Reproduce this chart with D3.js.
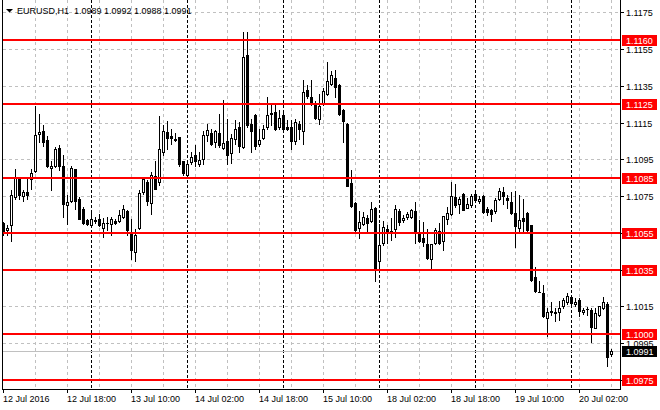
<!DOCTYPE html>
<html><head><meta charset="utf-8">
<script src="https://cdn.jsdelivr.net/npm/d3@7"></script>
<style>html,body{margin:0;padding:0;background:#fff;overflow:hidden}svg{display:block}text{font-family:"Liberation Sans",Arial,sans-serif;font-size:9px}</style>
</head><body>
<script>
const symbolTitle = "EURUSD,H1  1.0989 1.0992 1.0988 1.0991";
const startTime = "2016-07-12T02:00";
const open = [1.10604,1.10568,1.10592,1.10745,1.10845,1.10751,1.10773,1.10841,1.10888,1.11090,1.11107,1.11058,1.10905,1.10914,1.11011,1.10914,1.10700,1.10726,1.10896,1.10736,1.10682,1.10619,1.10592,1.10615,1.10628,1.10577,1.10602,1.10601,1.10617,1.10617,1.10637,1.10668,1.10556,1.10447,1.10577,1.10773,1.10830,1.10715,1.10859,1.10827,1.10993,1.11098,1.11080,1.11056,1.11071,1.10939,1.10863,1.10935,1.10975,1.10926,1.10953,1.11081,1.11095,1.11044,1.11095,1.11015,1.11048,1.10985,1.11059,1.11128,1.11017,1.11521,1.11145,1.11191,1.11035,1.11068,1.11128,1.11198,1.11206,1.11127,1.11191,1.11128,1.11127,1.11048,1.11145,1.11106,1.11326,1.11288,1.11259,1.11168,1.11254,1.11306,1.11362,1.11395,1.11357,1.11217,1.11145,1.10821,1.10712,1.10578,1.10601,1.10632,1.10616,1.10688,1.10399,1.10498,1.10571,1.10558,1.10571,1.10668,1.10618,1.10637,1.10637,1.10669,1.10546,1.10521,1.10488,1.10411,1.10496,1.10559,1.10506,1.10628,1.10651,1.10745,1.10709,1.10760,1.10687,1.10700,1.10760,1.10723,1.10749,1.10678,1.10676,1.10667,1.10736,1.10772,1.10741,1.10720,1.10656,1.10578,1.10633,1.10656,1.10593,1.10308,1.10231,1.10223,1.10089,1.10120,1.10122,1.10118,1.10151,1.10176,1.10201,1.10162,1.10187,1.10118,1.10138,1.10131,1.10031,1.10104,1.10140,1.10162,1.09890];
const high = [1.10610,1.10595,1.10782,1.10896,1.10856,1.10783,1.10856,1.10896,1.11243,1.11198,1.11138,1.11080,1.10939,1.11017,1.11026,1.10975,1.10755,1.10917,1.10899,1.10745,1.10691,1.10628,1.10660,1.10637,1.10655,1.10632,1.10637,1.10637,1.10628,1.10673,1.10700,1.10673,1.10624,1.10574,1.10782,1.10843,1.10836,1.10881,1.10939,1.11189,1.11138,1.11161,1.11116,1.11094,1.11073,1.10943,1.10935,1.10993,1.11026,1.10990,1.11107,1.11145,1.11117,1.11112,1.11200,1.11273,1.11172,1.11090,1.11163,1.11154,1.11644,1.11644,1.11172,1.11200,1.11117,1.11139,1.11292,1.11250,1.11246,1.11218,1.11206,1.11163,1.11167,1.11172,1.11158,1.11383,1.11353,1.11380,1.11266,1.11308,1.11339,1.11480,1.11429,1.11435,1.11362,1.11223,1.11150,1.10891,1.10719,1.10668,1.10665,1.10650,1.10719,1.10692,1.10601,1.10616,1.10592,1.10629,1.10701,1.10679,1.10647,1.10662,1.10682,1.10716,1.10619,1.10609,1.10573,1.10490,1.10579,1.10604,1.10642,1.10691,1.10826,1.10817,1.10745,1.10767,1.10742,1.10760,1.10772,1.10749,1.10754,1.10694,1.10682,1.10742,1.10796,1.10800,1.10759,1.10774,1.10778,1.10756,1.10734,1.10662,1.10595,1.10366,1.10290,1.10267,1.10140,1.10176,1.10143,1.10180,1.10198,1.10223,1.10209,1.10194,1.10194,1.10143,1.10149,1.10140,1.10143,1.10154,1.10201,1.10176,1.09920];
const low = [1.10540,1.10538,1.10509,1.10736,1.10736,1.10722,1.10736,1.10787,1.10881,1.11044,1.11022,1.10908,1.10785,1.10908,1.10890,1.10637,1.10601,1.10718,1.10679,1.10624,1.10601,1.10595,1.10583,1.10606,1.10588,1.10528,1.10565,1.10538,1.10601,1.10610,1.10632,1.10538,1.10411,1.10398,1.10574,1.10764,1.10700,1.10655,1.10787,1.10809,1.10972,1.11008,1.11035,1.11051,1.10917,1.10867,1.10859,1.10926,1.10917,1.10917,1.10926,1.11053,1.11026,1.11017,1.11017,1.11007,1.10925,1.10930,1.11035,1.10993,1.11011,1.11127,1.10993,1.11007,1.11022,1.11062,1.11117,1.11136,1.11108,1.11114,1.11099,1.11108,1.11007,1.11035,1.11062,1.11035,1.11284,1.11245,1.11172,1.11145,1.11245,1.11303,1.11353,1.11290,1.11194,1.11045,1.10803,1.10692,1.10562,1.10520,1.10592,1.10556,1.10610,1.10289,1.10357,1.10487,1.10498,1.10511,1.10529,1.10592,1.10610,1.10628,1.10633,1.10496,1.10501,1.10477,1.10411,1.10362,1.10492,1.10488,1.10459,1.10597,1.10646,1.10694,1.10658,1.10673,1.10684,1.10694,1.10718,1.10713,1.10658,1.10646,1.10615,1.10658,1.10731,1.10710,1.10687,1.10651,1.10475,1.10553,1.10560,1.10557,1.10290,1.10230,1.10227,1.10095,1.09991,1.10104,1.10071,1.10076,1.10143,1.10165,1.10162,1.10151,1.10100,1.10111,1.10104,1.09959,1.10031,1.10100,1.10136,1.09828,1.09880];
const close = [1.10556,1.10579,1.10758,1.10849,1.10758,1.10773,1.10758,1.10877,1.11084,1.11098,1.11044,1.10914,1.10912,1.11008,1.10914,1.10709,1.10718,1.10906,1.10726,1.10628,1.10604,1.10601,1.10628,1.10618,1.10592,1.10606,1.10606,1.10628,1.10604,1.10650,1.10679,1.10565,1.10456,1.10541,1.10769,1.10841,1.10722,1.10867,1.10791,1.11008,1.11107,1.11066,1.11066,1.11060,1.10926,1.10877,1.10926,1.10966,1.10939,1.10948,1.11084,1.11108,1.11035,1.11106,1.11026,1.11037,1.10974,1.11066,1.11117,1.11022,1.11508,1.11136,1.11103,1.11022,1.11057,1.11117,1.11191,1.11202,1.11117,1.11176,1.11117,1.11116,1.11053,1.11154,1.11117,1.11319,1.11295,1.11254,1.11176,1.11241,1.11321,1.11375,1.11408,1.11344,1.11199,1.11158,1.10806,1.10697,1.10565,1.10607,1.10639,1.10605,1.10679,1.10356,1.10487,1.10580,1.10553,1.10562,1.10678,1.10607,1.10632,1.10655,1.10676,1.10555,1.10506,1.10501,1.10414,1.10488,1.10568,1.10497,1.10640,1.10658,1.10749,1.10700,1.10736,1.10676,1.10709,1.10749,1.10731,1.10736,1.10664,1.10666,1.10655,1.10727,1.10776,1.10749,1.10727,1.10656,1.10589,1.10620,1.10616,1.10566,1.10294,1.10234,1.10229,1.10100,1.10122,1.10124,1.10113,1.10143,1.10187,1.10209,1.10169,1.10176,1.10127,1.10133,1.10134,1.10040,1.10113,1.10151,1.10172,1.09877,1.09910];
const levels = [1.1160, 1.1125, 1.1085, 1.1055, 1.1035, 1.1000, 1.0975];
const priceTicks = [1.1175, 1.1155, 1.1135, 1.1115, 1.1095, 1.1075, 1.1055, 1.1035, 1.1015, 1.0995, 1.0975];
const bidPrice = 1.0991;
const timeTickLabels = ["12 Jul 2016","12 Jul 18:00","13 Jul 10:00","14 Jul 02:00","14 Jul 18:00","15 Jul 10:00","18 Jul 02:00","18 Jul 18:00","19 Jul 10:00","20 Jul 02:00"];
const timeTickStep = 16;

// bar times (hourly, skipping weekend)
const times = [];
{ let t = new Date(startTime);
  while (times.length < close.length) {
    const d = t.getDay();
    if (d !== 0 && d !== 6) times.push(new Date(t));
    t = new Date(t.getTime() + 3600000);
  } }

const W = 660, H = 410;
const left = 3, right = 620, bottom = 389;
const svg = d3.select("body").append("svg").attr("width", W).attr("height", H)
  .attr("shape-rendering", "crispEdges");
svg.append("rect").attr("width", W).attr("height", H).attr("fill", "#fff");

const x = d3.scaleLinear().domain([0, close.length - 1]).range([3, 3 + 4 * (close.length - 1)]);
const y = d3.scaleLinear().domain([1.0975, 1.1160]).range([380, 40]);
const py = p => Math.round(y(p));

// grid horizontal
svg.append("g").selectAll("line").data(priceTicks).join("line")
  .attr("x1", left).attr("x2", right)
  .attr("y1", d => py(d) + 0.5).attr("y2", d => py(d) + 0.5)
  .attr("stroke", "#c0c0c0").attr("stroke-dasharray", "3,3");
// grid vertical (every 8 bars)
const vgrid = d3.range(8, close.length, 8);
svg.append("g").selectAll("line").data(vgrid).join("line")
  .attr("x1", d => x(d) + 0.5).attr("x2", d => x(d) + 0.5)
  .attr("y1", 0).attr("y2", bottom)
  .attr("stroke", "#c0c0c0").attr("stroke-dasharray", "3,3");
// day separators
const seps = times.map((t, i) => t.getHours() === 0 ? i : -1).filter(i => i > 0);
svg.append("g").selectAll("line").data(seps).join("line")
  .attr("x1", d => x(d) + 0.5).attr("x2", d => x(d) + 0.5)
  .attr("y1", 0).attr("y2", bottom)
  .attr("stroke", "#000").attr("stroke-dasharray", "3,2");

// bid line
svg.append("line").attr("x1", left).attr("x2", right)
  .attr("y1", py(bidPrice) + 0.5).attr("y2", py(bidPrice) + 0.5).attr("stroke", "#c0c0c0");

// candles
const g = svg.append("g");
close.forEach((c, i) => {
  const o = open[i], cx = x(i);
  g.append("line").attr("x1", cx + 0.5).attr("x2", cx + 0.5)
    .attr("y1", py(high[i])).attr("y2", py(low[i]) + 1).attr("stroke", "#000");
  const top = py(Math.max(o, c)), bot = py(Math.min(o, c));
  if (c < o) {
    g.append("rect").attr("x", cx - 1).attr("y", top).attr("width", 3)
      .attr("height", Math.max(1, bot - top + 1)).attr("fill", "#000");
  } else if (bot - top >= 2) {
    g.append("rect").attr("x", cx - 0.5).attr("y", top + 0.5).attr("width", 2)
      .attr("height", bot - top).attr("fill", "#fff").attr("stroke", "#000");
  } else {
    g.append("rect").attr("x", cx - 1).attr("y", top).attr("width", 3)
      .attr("height", Math.max(1, bot - top + 1)).attr("fill", "#000");
  }
});

// red levels
svg.append("g").selectAll("line").data(levels).join("line")
  .attr("x1", left).attr("x2", right)
  .attr("y1", d => py(d)).attr("y2", d => py(d))
  .attr("stroke", "#ff0000").attr("stroke-width", 2);

// frame
svg.append("line").attr("x1", 2.5).attr("x2", 2.5).attr("y1", 0).attr("y2", bottom + 1).attr("stroke", "#000");
svg.append("line").attr("x1", right + 0.5).attr("x2", right + 0.5).attr("y1", 0).attr("y2", bottom + 1).attr("stroke", "#000");
svg.append("line").attr("x1", 2).attr("x2", right + 1).attr("y1", bottom + 0.5).attr("y2", bottom + 0.5).attr("stroke", "#000");

// price axis
const pa = svg.append("g");
priceTicks.forEach(p => {
  pa.append("line").attr("x1", right + 1).attr("x2", right + 4)
    .attr("y1", py(p) + 0.5).attr("y2", py(p) + 0.5).attr("stroke", "#000");
  pa.append("text").attr("x", 626).attr("y", py(p) + 4).text(d3.format(".4f")(p));
});
levels.forEach(p => {
  pa.append("rect").attr("x", 622).attr("y", py(p) - 5).attr("width", 35).attr("height", 11).attr("fill", "#ff0000");
  pa.append("text").attr("x", 626).attr("y", py(p) + 4).attr("fill", "#fff").text(d3.format(".4f")(p));
});
pa.append("rect").attr("x", 622).attr("y", py(bidPrice) - 5).attr("width", 35).attr("height", 11).attr("fill", "#000");
pa.append("text").attr("x", 626).attr("y", py(bidPrice) + 4).attr("fill", "#fff").text(d3.format(".4f")(bidPrice));

// time axis
const ta = svg.append("g");
timeTickLabels.forEach((lab, k) => {
  const i = k * timeTickStep, tx = x(i);
  ta.append("line").attr("x1", tx + 0.5).attr("x2", tx + 0.5).attr("y1", bottom).attr("y2", bottom + 4).attr("stroke", "#000");
  ta.append("text").attr("x", tx).attr("y", 402).text(lab);
});

// title
svg.append("polygon").attr("points", "6,9 13,9 9.5,12.5").attr("fill", "#000").attr("shape-rendering", "auto");
svg.append("text").attr("x", 17).attr("y", 14).attr("xml:space", "preserve").style("white-space", "pre").text(symbolTitle);
</script>
</body></html>
